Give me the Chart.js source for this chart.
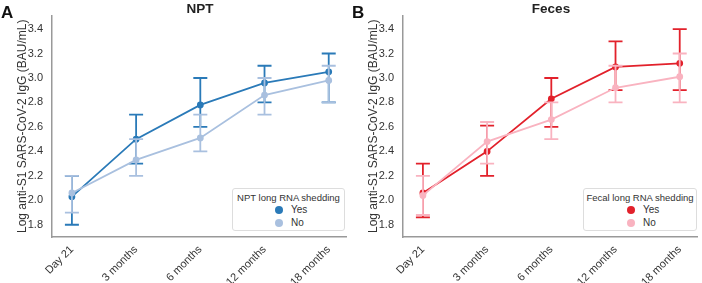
<!DOCTYPE html>
<html>
<head>
<meta charset="utf-8">
<script src="https://cdn.jsdelivr.net/npm/chart.js@4"></script>
<style>
  body { margin: 0; background: #fff; font-family: "Liberation Sans", Arial, sans-serif; }
  .panel { position: absolute; top: 0; }
  .letter { position: absolute; top: 3px; font: bold 17px "Liberation Sans", Arial, sans-serif; color: #111; }
  .title { position: absolute; top: 1px; width: 120px; text-align: center; font: bold 13.5px "Liberation Sans", Arial, sans-serif; color: #222; }
  .legend { position: absolute; top: 188px; height: 43px; border: 1px solid #ddd; border-radius: 3px;
            background: #fff; font-size: 9.5px; color: #333; box-sizing: border-box; white-space: nowrap; }
  .legend .ttl { text-align: center; margin-top: 3px; }
  .legend .row { position: relative; height: 13px; }
  .legend .dot { position: absolute; top: 3px; width: 8px; height: 8px; border-radius: 50%; }
  .legend .lbl { position: absolute; top: 1px; font-size: 10px; }
</style>
</head>
<body>
<canvas id="npt" class="panel" width="351" height="283" style="left:0"></canvas>
<canvas id="feces" class="panel" width="351" height="283" style="left:351px"></canvas>
<div class="letter" style="left:1px">A</div>
<div class="letter" style="left:352px">B</div>
<div class="title" style="left:140px">NPT</div>
<div class="title" style="left:491px">Feces</div>
<div class="legend" style="left:232px;width:113px">
  <div class="ttl">NPT long RNA shedding</div>
  <div class="row"><span class="dot" style="left:42px;background:#2a7ab8"></span><span class="lbl" style="left:58px">Yes</span></div>
  <div class="row"><span class="dot" style="left:42px;background:#a9c0df"></span><span class="lbl" style="left:58px">No</span></div>
</div>
<div class="legend" style="left:583px;width:114px">
  <div class="ttl">Fecal long RNA shedding</div>
  <div class="row"><span class="dot" style="left:43px;background:#e2212b"></span><span class="lbl" style="left:59px">Yes</span></div>
  <div class="row"><span class="dot" style="left:43px;background:#f9b3c0"></span><span class="lbl" style="left:59px">No</span></div>
</div>
<script>
const timepoints = ["Day 21", "3 months", "6 months", "12 months", "18 months"];
const yTicks = [1.8, 2.0, 2.2, 2.4, 2.6, 2.8, 3.0, 3.2, 3.4];

// NPT panel
const nptYes = [2.03, 2.50, 2.78, 2.96, 3.05];
const nptYesLow = [1.80, 2.30, 2.60, 2.80, 2.80];
const nptYesHigh = [2.20, 2.70, 3.00, 3.10, 3.20];
const nptNo = [2.06, 2.33, 2.51, 2.86, 2.98];
const nptNoLow = [1.90, 2.20, 2.40, 2.70, 2.80];
const nptNoHigh = [2.20, 2.50, 2.70, 3.00, 3.10];

// Feces panel
const fecesYes = [2.06, 2.40, 2.83, 3.09, 3.12];
const fecesYesLow = [1.86, 2.20, 2.60, 2.90, 2.90];
const fecesYesHigh = [2.30, 2.61, 3.00, 3.30, 3.40];
const fecesNo = [2.04, 2.48, 2.66, 2.92, 3.01];
const fecesNoLow = [1.88, 2.30, 2.50, 2.80, 2.80];
const fecesNoHigh = [2.20, 2.64, 2.80, 3.10, 3.20];

const errorBars = {
    id: "errorBars",
    afterDatasetDraw(chart, args) {
        const ds = chart.data.datasets[args.index];
        const { ctx, scales: { x, y } } = chart;
        ctx.save();
        ctx.strokeStyle = ds.borderColor;
        ctx.lineWidth = 1.8;
        ds.low.forEach((lo, i) => {
            const px = x.getPixelForValue(i);
            const y1 = y.getPixelForValue(lo);
            const y2 = y.getPixelForValue(ds.high[i]);
            ctx.beginPath();
            ctx.moveTo(px, y1); ctx.lineTo(px, y2);
            ctx.moveTo(px - 7, y1); ctx.lineTo(px + 7, y1);
            ctx.moveTo(px - 7, y2); ctx.lineTo(px + 7, y2);
            ctx.stroke();
        });
        ctx.restore();
    }
};

// order: "No" (order 0) is painted over "Yes" (order 1)
function series(label, values, low, high, color, order) {
    return {
        label,
        data: values.map((v, i) => ({ x: i, y: v })),
        low, high, order,
        borderColor: color,
        backgroundColor: color,
        borderWidth: 1.8,
        pointRadius: 2.5,
        pointHoverRadius: 2.5,
        tension: 0
    };
}

function makeChart(id, datasets) {
    return new Chart(document.getElementById(id), {
        type: "line",
        data: { datasets },
        plugins: [errorBars],
        options: {
            responsive: false,
            animation: false,
            layout: { padding: { right: 4, top: 15 } },
            plugins: {
                legend: { display: false },
                tooltip: { enabled: false }
            },
            scales: {
                x: {
                    type: "linear",
                    min: -0.31,
                    max: 4.28,
                    grid: { display: false, drawTicks: false },
                    border: { color: "#999", width: 1.5 },
                    afterBuildTicks: (s) => { s.ticks = timepoints.map((_, i) => ({ value: i })); },
                    afterFit: (s) => { s.height = 46; },
                    ticks: {
                        autoSkip: false,
                        minRotation: 45,
                        maxRotation: 45,
                        padding: 6,
                        color: "#333",
                        font: { family: "Liberation Sans", size: 11 },
                        callback: (v) => timepoints[v]
                    }
                },
                y: {
                    min: 1.7,
                    max: 3.51,
                    grid: { display: false, drawTicks: false },
                    border: { color: "#999", width: 1.5 },
                    afterBuildTicks: (s) => { s.ticks = yTicks.map((v) => ({ value: v })); },
                    afterFit: (s) => { s.width = 52; },
                    title: {
                        display: true,
                        text: "Log anti-S1 SARS-CoV-2 IgG (BAU/mL)",
                        color: "#333",
                        font: { family: "Liberation Sans", size: 12 },
                        padding: { top: 15, bottom: 0 }
                    },
                    ticks: {
                        autoSkip: false,
                        padding: 9,
                        color: "#333",
                        font: { family: "Liberation Sans", size: 11 },
                        callback: (v) => v.toFixed(1)
                    }
                }
            }
        }
    });
}

makeChart("npt", [
    series("Yes", nptYes, nptYesLow, nptYesHigh, "#2a7ab8", 1),
    series("No", nptNo, nptNoLow, nptNoHigh, "#a9c0df", 0)
]);
makeChart("feces", [
    series("Yes", fecesYes, fecesYesLow, fecesYesHigh, "#e2212b", 1),
    series("No", fecesNo, fecesNoLow, fecesNoHigh, "#f9b3c0", 0)
]);
</script>
</body>
</html>
